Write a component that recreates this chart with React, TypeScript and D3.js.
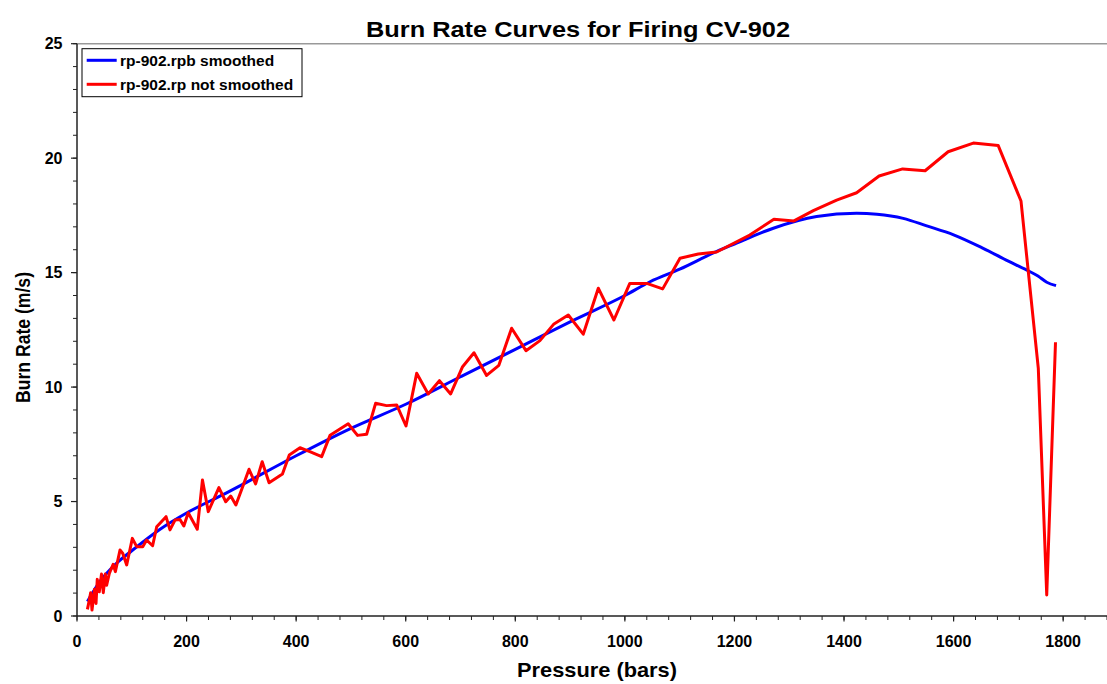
import React from "react";
import * as d3 from "d3";

// Smoothed burn-rate fit (rp-902.rpb)
const smoothPressure = [19, 40, 72, 100, 151, 200, 273, 300, 400, 500, 600, 700, 800, 900, 1000, 1046, 1100, 1167, 1200, 1271, 1350, 1423, 1460, 1508, 1551, 1600, 1654, 1700, 1733, 1754, 1770, 1787];
const smoothRate = [0.63, 1.45, 2.3, 2.85, 3.78, 4.5, 5.38, 5.72, 7.0, 8.2, 9.25, 10.45, 11.65, 12.85, 14.0, 14.6, 15.15, 15.92, 16.25, 16.94, 17.45, 17.59, 17.55, 17.37, 17.04, 16.65, 16.06, 15.5, 15.12, 14.85, 14.58, 14.43];

// Raw burn-rate points (rp-902.rp)
const rawPressure = [19, 22.5, 25, 27.4, 32, 34.7, 37, 40.7, 44.7, 48, 51.7, 54, 59, 66, 70, 78.5, 83.4, 90.7, 101, 109, 120, 127, 138, 145.5, 162.5, 169.7, 178.9, 188, 195, 203, 219.5, 229, 239.6, 259, 271.5, 280.6, 290, 302.4, 314, 326, 338, 350.6, 375, 387.5, 407, 425, 446.6, 462, 495, 512, 528.7, 545, 565, 583.5, 600.5, 620, 641, 661.5, 682, 703.8, 724.6, 747.6, 770, 793.3, 819.5, 845, 870.6, 896.7, 924, 951.5, 980, 1009, 1040, 1069, 1100.6, 1134, 1167.5, 1228, 1272, 1308.6, 1344, 1386.5, 1423, 1464, 1507, 1548, 1590, 1636, 1681.5, 1723, 1754.6, 1770, 1786];
const rawRate = [0.29, 0.7, 1.02, 0.26, 1.17, 0.55, 1.6, 1.06, 1.83, 1.02, 1.83, 1.34, 1.86, 2.26, 1.94, 2.88, 2.74, 2.23, 3.39, 3.03, 3.03, 3.32, 3.07, 3.9, 4.34, 3.76, 4.19, 4.22, 3.93, 4.51, 3.79, 5.94, 4.56, 5.61, 4.99, 5.24, 4.85, 5.65, 6.41, 5.77, 6.74, 5.82, 6.2, 7.03, 7.35, 7.18, 6.96, 7.9, 8.4, 7.89, 7.94, 9.29, 9.19, 9.22, 8.3, 10.6, 9.7, 10.28, 9.7, 10.89, 11.5, 10.51, 10.95, 12.57, 11.59, 12.03, 12.76, 13.15, 12.31, 14.32, 12.93, 14.53, 14.53, 14.29, 15.63, 15.81, 15.9, 16.64, 17.33, 17.26, 17.71, 18.17, 18.49, 19.22, 19.53, 19.45, 20.28, 20.66, 20.55, 18.13, 10.82, 0.92, 11.96];

const xMajorTicks = [0, 200, 400, 600, 800, 1000, 1200, 1400, 1600, 1800];
const yMajorTicks = [0, 5, 10, 15, 20, 25];

const seriesNames = ["rp-902.rpb smoothed", "rp-902.rp not smoothed"];
const seriesColors = ["#0000ff", "#ff0000"];

const W = 1107;
const H = 684;
const plot = { left: 77, right: 1107, top: 43.7, bottom: 616 };
const FONT = "'Liberation Sans', Arial, Helvetica, sans-serif";

export default function App() {
  const x = d3.scaleLinear().domain([0, 1880]).range([plot.left, plot.right]);
  const y = d3.scaleLinear().domain([0, 25]).range([plot.bottom, plot.top]);

  const smooth = smoothPressure.map((p, i) => [p, smoothRate[i]] as [number, number]);
  const raw = rawPressure.map((p, i) => [p, rawRate[i]] as [number, number]);

  const smoothLine = d3
    .line<[number, number]>()
    .x((d) => x(d[0]))
    .y((d) => y(d[1]))
    .curve(d3.curveMonotoneX);
  const rawLine = d3
    .line<[number, number]>()
    .x((d) => x(d[0]))
    .y((d) => y(d[1]));

  const xMinor = d3.range(0, 1881, 40);
  const yMinor = d3.range(0, 26, 1);
  const axisColor = "#222";

  return (
    <svg
      width={W}
      height={H}
      style={{ position: "absolute", left: 0, top: 0, background: "#fff" }}
      fontFamily={FONT}
    >
      <rect x={0} y={0} width={W} height={H} fill="#fff" />

      {/* title */}
      <text
        x={578}
        y={37}
        textAnchor="middle"
        fontSize={22}
        fontWeight="bold"
        textLength={424}
        lengthAdjust="spacingAndGlyphs"
      >
        Burn Rate Curves for Firing CV-902
      </text>

      {/* top frame line */}
      <line x1={plot.left} x2={plot.right} y1={plot.top} y2={plot.top} stroke="#999" strokeWidth={1.5} />

      {/* data */}
      <path d={smoothLine(smooth) ?? ""} fill="none" stroke={seriesColors[0]} strokeWidth={3} strokeLinejoin="round" />
      <path d={rawLine(raw) ?? ""} fill="none" stroke={seriesColors[1]} strokeWidth={3} strokeLinejoin="round" />

      {/* x axis */}
      <line x1={plot.left} x2={plot.right} y1={plot.bottom} y2={plot.bottom} stroke={axisColor} strokeWidth={1.5} />
      {xMinor.map((v) => (
        <line key={"xm" + v} x1={x(v)} x2={x(v)} y1={plot.bottom} y2={plot.bottom + 4} stroke={axisColor} strokeWidth={1} />
      ))}
      {xMajorTicks.map((v) => (
        <g key={"xM" + v}>
          <line x1={x(v)} x2={x(v)} y1={plot.bottom} y2={plot.bottom + 5.5} stroke={axisColor} strokeWidth={1.2} />
          <text x={x(v)} y={647} textAnchor="middle" fontSize={16} fontWeight="bold">
            {v}
          </text>
        </g>
      ))}

      {/* y axis */}
      <line x1={plot.left} x2={plot.left} y1={plot.top} y2={plot.bottom} stroke={axisColor} strokeWidth={1.5} />
      {yMinor.map((v) => (
        <line key={"ym" + v} x1={plot.left - 4} x2={plot.left} y1={y(v)} y2={y(v)} stroke={axisColor} strokeWidth={1} />
      ))}
      {yMajorTicks.map((v) => (
        <g key={"yM" + v}>
          <line x1={plot.left - 6} x2={plot.left} y1={y(v)} y2={y(v)} stroke={axisColor} strokeWidth={1.2} />
          <text x={62.5} y={y(v)} dy="0.36em" textAnchor="end" fontSize={16} fontWeight="bold">
            {v}
          </text>
        </g>
      ))}

      {/* axis titles */}
      <text
        x={597}
        y={677}
        textAnchor="middle"
        fontSize={21}
        fontWeight="bold"
        textLength={160}
        lengthAdjust="spacingAndGlyphs"
      >
        Pressure (bars)
      </text>
      <text
        transform="translate(30,337.5) rotate(-90)"
        textAnchor="middle"
        fontSize={21}
        fontWeight="bold"
        textLength={131}
        lengthAdjust="spacingAndGlyphs"
      >
        Burn Rate (m/s)
      </text>

      {/* legend */}
      <g>
        <rect x={82} y={48.7} width={220} height={48} fill="#fff" stroke="#000" strokeWidth={1} />
        {seriesNames.map((name, i) => (
          <g key={name}>
            <line x1={86.7} x2={116.7} y1={60.3 + i * 24} y2={60.3 + i * 24} stroke={seriesColors[i]} strokeWidth={3} />
            <text x={120} y={60.3 + i * 24} dy="0.36em" fontSize={15.5} fontWeight="bold">
              {name}
            </text>
          </g>
        ))}
      </g>
    </svg>
  );
}
